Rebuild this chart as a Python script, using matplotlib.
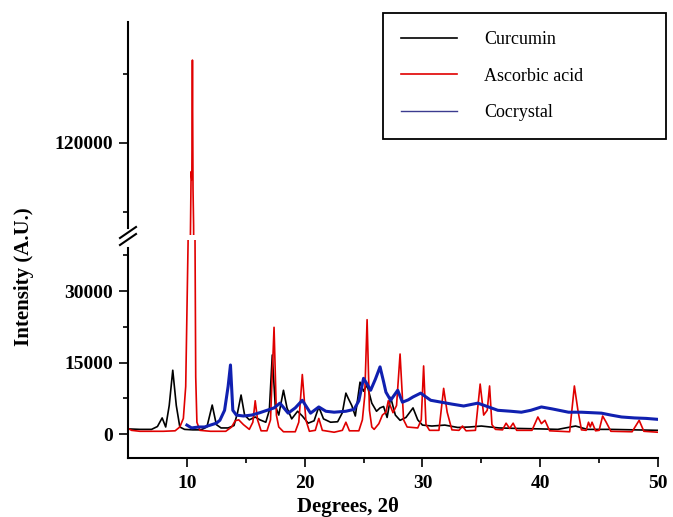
import matplotlib.pyplot as plt
from matplotlib.lines import Line2D
from matplotlib.ticker import FixedLocator

plt.rcParams['font.family'] = ['Liberation Serif', 'DejaVu Serif']

# XRD patterns (2theta in degrees, intensity in counts)
curcumin_x = [5.0, 6.0, 7.0, 7.5, 7.9, 8.2, 8.5, 8.8, 9.1, 9.4, 9.8, 10.5, 11.2, 11.7, 12.15,
              12.5, 12.9, 13.5, 14.0, 14.3, 14.6, 14.9, 15.3, 15.8, 16.2, 16.7, 17.0, 17.25,
              17.5, 17.8, 18.2, 18.5, 18.9, 19.4, 19.8, 20.3, 20.8, 21.2, 21.6, 22.2, 22.8,
              23.2, 23.5, 23.7, 24.0, 24.3, 24.7, 25.0, 25.3, 25.7, 26.1, 26.4, 26.7, 27.0,
              27.3, 27.7, 28.1, 28.6, 29.2, 29.6, 30.0, 30.8, 31.9, 33.0, 34.0, 35.0, 36.5,
              38.0, 40.0, 41.5, 43.0, 44.0, 46.0, 48.0, 50.0]
curcumin_y = [1100, 1000, 1000, 1600, 3400, 1500, 6000, 13400, 6000, 1500, 1000, 900, 900, 1500, 6100,
              2000, 1300, 1300, 1800, 4500, 8200, 4000, 3000, 3600, 3000, 2500, 5000, 16600,
              6000, 4000, 9200, 5500, 3200, 4800, 3800, 2300, 2800, 5700, 3200, 2500, 2600,
              4500, 8600, 7500, 6000, 3800, 10900, 9000, 10300, 6500, 4800, 5500, 5800, 3500,
              7700, 4000, 2900, 3500, 5500, 3000, 1900, 1700, 1900, 1400, 1500, 1700, 1300,
              1200, 1100, 1000, 1700, 1000, 1000, 900, 800]

ascorbic_x = [5.0, 5.3, 6.0, 8.0, 9.0, 9.4, 9.7, 9.9, 10.1, 10.3, 10.36, 10.42, 10.47, 10.52,
              10.57, 10.65, 10.75, 10.85, 11.1, 12.0, 13.3, 13.8, 14.1, 14.4, 14.8, 15.3, 15.6,
              15.8, 16.0, 16.3, 16.8, 17.1, 17.4, 17.6, 17.8, 18.2, 19.2, 19.5, 19.8, 20.1,
              20.4, 20.9, 21.2, 21.5, 22.5, 23.2, 23.5, 23.8, 24.6, 24.9, 25.1, 25.3, 25.5,
              25.7, 25.9, 26.3, 26.6, 26.9, 27.1, 27.5, 27.8, 28.1, 28.4, 28.7, 29.6, 29.9,
              30.1, 30.3, 30.6, 31.4, 31.8, 32.1, 32.5, 33.1, 33.4, 33.7, 34.5, 34.9, 35.2,
              35.5, 35.7, 35.9, 36.2, 36.8, 37.1, 37.4, 37.7, 38.0, 39.3, 39.8, 40.1, 40.4,
              40.8, 42.5, 42.9, 43.2, 43.5, 43.9, 44.1, 44.25, 44.4, 44.7, 45.0, 45.3, 45.6,
              46.0, 47.8, 48.4, 48.8, 50.0]
ascorbic_y = [1200, 800, 600, 600, 700, 1500, 3300, 10000, 40000, 100000, 113700, 112000, 138000, 110000,
              102000, 60000, 12000, 2500, 800, 600, 600, 1500, 2800, 3000, 2000, 1000, 2500,
              7000, 3000, 700, 700, 3000, 22400, 4000, 1500, 500, 500, 2500, 12500, 3000,
              600, 800, 3300, 800, 400, 800, 2500, 700, 700, 3000, 8000, 24000, 5000,
              1500, 1000, 2200, 4000, 4600, 7000, 4500, 6000, 16800, 3000, 1500, 1300, 3000,
              14300, 2000, 800, 800, 9600, 4600, 900, 800, 1700, 700, 800, 10500, 4000,
              5000, 10100, 2000, 1000, 900, 2300, 1200, 2300, 800, 800, 3600, 2200, 2900,
              700, 500, 10100, 5000, 900, 800, 2500, 1500, 2500, 700, 800, 3800, 2500,
              600, 500, 2900, 600, 400]

cocrystal_x = [10.0, 10.4, 11.0, 11.5, 12.0, 12.5, 12.8, 13.2, 13.5, 13.7, 13.9, 14.2, 14.8,
               15.5, 16.2, 16.8, 17.4, 17.9, 18.6, 19.2, 19.8, 20.5, 21.2, 21.8, 22.5, 23.5,
               24.2, 24.6, 25.0, 25.3, 25.6, 26.0, 26.4, 26.7, 26.9, 27.3, 27.9, 28.3, 28.8,
               29.2, 29.85, 30.3, 30.7, 31.6, 32.5, 33.5, 34.7, 35.5, 36.4, 37.5, 38.4, 39.2,
               40.1, 41.0, 42.4, 43.5, 45.2, 46.0, 46.9, 48.0, 49.0, 50.0]
cocrystal_y = [1900, 1300, 1500, 1500, 1900, 2300, 2900, 5000, 10000, 14500, 5000, 4000, 3800,
               4000, 4500, 5000, 5500, 6500, 4400, 5500, 7100, 4400, 5700, 4800, 4600, 4800,
               5200, 7000, 11700, 10500, 9200, 11500, 14100, 11000, 8800, 7100, 9200, 6700, 7200,
               7800, 8600, 7800, 7100, 6700, 6300, 5900, 6500, 5800, 5000, 4800, 4600, 5000,
               5700, 5300, 4600, 4600, 4400, 4000, 3600, 3400, 3300, 3100]

series = [
    ('Curcumin', curcumin_x, curcumin_y, '#000000', 1.2),
    ('Ascorbic acid', ascorbic_x, ascorbic_y, '#e00000', 1.2),
    ('Cocrystal', cocrystal_x, cocrystal_y, '#1020b0', 2.2),
]

W, H = 673, 517
fig = plt.figure(figsize=(W / 100, H / 100), dpi=100)

# broken y axis: lower panel for the bulk of the pattern, upper for the tall peak
ax_lo = fig.add_axes([128 / W, 1 - 458 / H, 530 / W, 218 / H])
ax_hi = fig.add_axes([128 / W, 1 - 234.6 / H, 530 / W, 212.6 / H], sharex=ax_lo)

for ax in (ax_lo, ax_hi):
    for name, xs, ys, color, lw in series:
        ax.plot(xs, ys, color=color, lw=lw, zorder=2 if name != 'Cocrystal' else 3)
    ax.spines['top'].set_visible(False)
    ax.spines['right'].set_visible(False)
    ax.spines['left'].set_linewidth(1.5)
    ax.tick_params(axis='both', which='major', direction='out', length=6.5, width=1.2,
                   labelsize=14, pad=4)
    ax.tick_params(axis='both', which='minor', direction='out', length=3.5, width=1.2)

ax_lo.set_xlim(5, 50)
ax_lo.set_ylim(-5000, 40700)
ax_lo.set_xticks([10, 20, 30, 40, 50])
ax_lo.xaxis.set_minor_locator(FixedLocator([15, 25, 35, 45]))
ax_lo.set_yticks([0, 15000, 30000])
ax_lo.yaxis.set_minor_locator(FixedLocator([7500, 22500, 37500]))
ax_lo.spines['bottom'].set_linewidth(1.5)
ax_lo.spines['left'].set_bounds(-5000, 39000)
ax_lo.tick_params(axis='x', pad=6)
for lab in ax_lo.get_xticklabels() + ax_lo.get_yticklabels():
    lab.set_fontweight('bold')

ax_hi.set_ylim(100000, 146300)
ax_hi.set_yticks([120000])
ax_hi.yaxis.set_minor_locator(FixedLocator([105000, 135000]))
ax_hi.spines['bottom'].set_visible(False)
ax_hi.spines['left'].set_bounds(101500, 146300)
ax_hi.tick_params(axis='x', which='both', bottom=False, labelbottom=False)
for lab in ax_hi.get_yticklabels():
    lab.set_fontweight('bold')

# break marks on the y axis
for y0 in (238, 245):
    fig.add_artist(Line2D([120 / W, 136 / W], [1 - y0 / H, 1 - (y0 - 11) / H],
                          color='black', lw=1.5))

fig.text(24 / W, 1 - 277 / H, 'Intensity (A.U.)', rotation=90, ha='center', va='center',
         fontsize=15, fontweight='bold')
fig.text(348 / W, 1 - 497 / H, 'Degrees, 2θ', ha='center', va='top',
         fontsize=15, fontweight='bold')

handles = [Line2D([], [], color='#000000', lw=1.2),
           Line2D([], [], color='#e00000', lw=1.2),
           Line2D([], [], color='#3b3b8f', lw=1.0)]
leg = fig.legend(handles, [s[0] for s in series], loc='upper left',
                 bbox_to_anchor=(383 / W, 1 - 13 / H, 283 / W, 0), mode='expand',
                 borderaxespad=0, prop={'family': 'Liberation Serif', 'size': 13},
                 handlelength=3.1, handletextpad=1.5, labelspacing=1.08, borderpad=1.0,
                 fancybox=False, framealpha=1, edgecolor='black')
leg.get_frame().set_linewidth(1.3)

fig.savefig('out.png', dpi=100)
